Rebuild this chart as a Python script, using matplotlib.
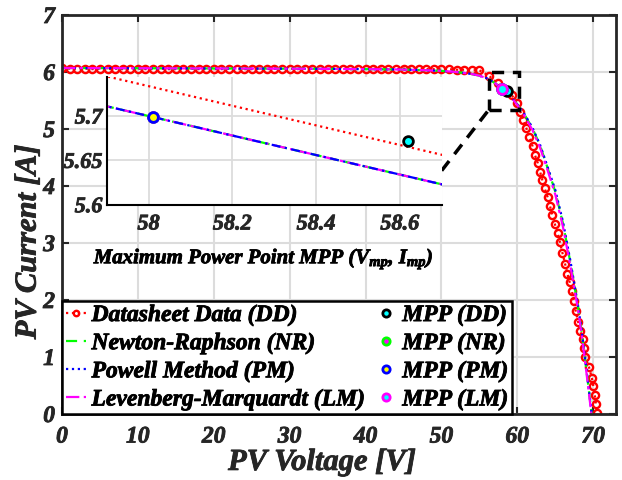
import matplotlib
matplotlib.use('Agg')
import matplotlib.pyplot as plt
from matplotlib.patches import Rectangle
import matplotlib.patheffects as pe

# ---------------- data ----------------
V_dd = [0, 1, 2, 3, 4, 5, 6, 7, 8, 9,
        10, 11, 12, 13, 14, 15, 16, 17, 18, 19,
        20, 21, 22, 23, 24, 25, 26, 27, 28, 29,
        30, 31, 32, 33, 34, 35, 36, 37, 38, 39,
        40, 41, 42, 43, 44, 45, 46, 47, 48, 49,
        50, 51, 52, 53, 54, 55, 56.3, 57.4,
        59.3, 59.9, 60.4, 60.8, 61.2, 61.6, 62.0, 62.3, 62.7, 63.0,
        63.3, 63.6, 64.0, 64.3, 64.6, 64.95, 65.3, 65.6, 65.95, 66.3,
        66.6, 66.9, 67.2, 67.45, 67.7, 68.0, 68.3, 68.6, 68.8, 68.95,
        69.45, 69.8, 70.0, 70.2, 70.35, 70.45]
I_dd = [6.07, 6.06, 6.06, 6.06, 6.05, 6.06, 6.05, 6.06, 6.05, 6.05,
        6.06, 6.05, 6.05, 6.06, 6.05, 6.05, 6.05, 6.06, 6.05, 6.05,
        6.05, 6.05, 6.06, 6.05, 6.05, 6.05, 6.06, 6.05, 6.06, 6.06,
        6.06, 6.05, 6.06, 6.06, 6.05, 6.05, 6.06, 6.06, 6.05, 6.06,
        6.06, 6.06, 6.06, 6.05, 6.05, 6.06, 6.06, 6.06, 6.05, 6.05,
        6.05, 6.05, 6.04, 6.04, 6.03, 6.03, 5.93, 5.80,
        5.59, 5.45, 5.30, 5.15, 5.01, 4.86, 4.70, 4.55, 4.40, 4.25,
        4.10, 3.96, 3.80, 3.65, 3.49, 3.33, 3.18, 3.02, 2.82, 2.63,
        2.46, 2.31, 2.15, 1.98, 1.80, 1.62, 1.46, 1.31, 1.16, 1.00,
        0.82, 0.64, 0.50, 0.34, 0.18, 0.02]

V_model = [0, 5, 10, 15, 20, 25, 30, 35, 40, 44, 47, 50, 52, 54, 55, 56, 57, 58,
           59, 60, 61, 62, 63, 64, 65, 66, 67, 68, 68.5, 69, 69.4, 69.8]
I_nr = [6.07, 6.068, 6.066, 6.064, 6.062, 6.06, 6.058, 6.055, 6.05, 6.045, 6.035,
        6.02, 6.0, 5.965, 5.935, 5.89, 5.81, 5.70, 5.59, 5.43, 5.24, 5.01, 4.71,
        4.31, 3.90, 3.35, 2.65, 1.88, 1.42, 0.88, 0.44, 0.0]
I_pm = [6.07, 6.068, 6.066, 6.064, 6.062, 6.06, 6.058, 6.055, 6.05, 6.045, 6.035,
        6.02, 6.0, 5.965, 5.935, 5.89, 5.81, 5.70, 5.59, 5.43, 5.25, 5.02, 4.72,
        4.33, 3.93, 3.38, 2.68, 1.90, 1.44, 0.90, 0.46, 0.0]
I_lm = [6.07, 6.068, 6.066, 6.064, 6.062, 6.06, 6.058, 6.055, 6.05, 6.045, 6.035,
        6.02, 6.0, 5.965, 5.935, 5.89, 5.81, 5.70, 5.59, 5.42, 5.22, 4.98, 4.67,
        4.27, 3.85, 3.29, 2.59, 1.83, 1.37, 0.84, 0.40, -0.05]

mpp_labels = ['MPP (DD)', 'MPP (NR)', 'MPP (PM)', 'MPP (LM)']
mpp_V = [58.62, 58.01, 58.01, 58.01]
mpp_I = [5.672, 5.699, 5.699, 5.699]

x_ticks = [0, 10, 20, 30, 40, 50, 60, 70]
y_ticks = [0, 1, 2, 3, 4, 5, 6, 7]
inset_x_ticks = [58, 58.2, 58.4, 58.6]
inset_x_labels = ['58', '58.2', '58.4', '58.6']
inset_y_ticks = [5.6, 5.65, 5.7]
inset_y_labels = ['5.6', '5.65', '5.7']

zoom_box = [56.2, 5.33, 60.25, 6.0]      # V0, I0, V1, I1
connector = [[50.03, 56.2], [4.27, 5.33]]

# ---------------- style ----------------
plt.rcParams['font.family'] = 'Liberation Serif'
plt.rcParams['font.weight'] = 'bold'
plt.rcParams['font.style'] = 'italic'
plt.rcParams['axes.labelweight'] = 'bold'
plt.rcParams['mathtext.fontset'] = 'custom'
plt.rcParams['mathtext.it'] = 'Liberation Serif:italic:bold'
plt.rcParams['mathtext.rm'] = 'Liberation Serif:italic:bold'
plt.rcParams['mathtext.bf'] = 'Liberation Serif:italic:bold'

dark = '#262626'
gridc = '#dcdcdc'
heavy = [pe.withStroke(linewidth=0.6, foreground='black')]
heavy_d = [pe.withStroke(linewidth=0.6, foreground=dark)]

fig = plt.figure(figsize=(6.22, 4.81), dpi=100)
ax = fig.add_axes([62 / 622, 1 - 415 / 481, 554 / 622, 399 / 481])

mpp_styles = [dict(mec='black', mfc='cyan'),
              dict(mec='#00ff00', mfc='magenta'),
              dict(mec='blue', mfc='yellow'),
              dict(mec='magenta', mfc='cyan')]

h_dd, = ax.plot(V_dd, I_dd, color='red', ls=':', lw=1.6, marker='o', ms=5.2,
                mfc='none', mec='red', mew=1.7, label='Datasheet Data (DD)')
h_nr, = ax.plot(V_model, I_nr, color='#00ff00', ls=(0, (5, 3)), lw=1.6,
                label='Newton-Raphson (NR)')
h_pm, = ax.plot(V_model, I_pm, color='blue', ls=':', lw=1.6,
                label='Powell Method (PM)')
h_lm, = ax.plot(V_model, I_lm, color='magenta', ls=(0, (6, 2, 1.5, 2)), lw=1.6,
                label='Levenberg-Marquardt (LM)')

mpp_handles = []
for lab, v, i, st in zip(mpp_labels, mpp_V, mpp_I, mpp_styles):
    h, = ax.plot([v], [i], ls='none', marker='o', ms=7, mew=2.0, label=lab, **st)
    mpp_handles.append(h)

# zoom box and connector
ax.add_patch(Rectangle((zoom_box[0], zoom_box[1]), zoom_box[2] - zoom_box[0],
                       zoom_box[3] - zoom_box[1], fill=False, ec='black',
                       lw=2.5, ls=(0, (3.5, 2.5)), zorder=6))
ax.plot(connector[0], connector[1], color='black', lw=2.5, ls=(0, (3.5, 2.5)),
        zorder=6)

ax.set_xlim(0, 73)
ax.set_ylim(0, 7)
ax.set_xticks(x_ticks)
ax.set_yticks(y_ticks)
ax.grid(True, color=gridc, lw=1.5)
ax.set_axisbelow(True)
ax.tick_params(direction='in', top=True, right=True, length=5, width=1.5,
               labelsize=17, colors=dark, labelcolor=dark)
ax.tick_params(axis='x', pad=9)
ax.tick_params(axis='y', pad=5)
for s in ax.spines.values():
    s.set_linewidth(2.0)
    s.set_color(dark)
for t in ax.get_xticklabels() + ax.get_yticklabels():
    t.set_path_effects(heavy_d)

ax.set_xlabel('PV Voltage [V]', fontsize=22, color=dark, path_effects=heavy_d)
ax.set_ylabel('PV Current [A]', fontsize=22, color=dark, path_effects=heavy_d)
ax.xaxis.set_label_coords(0.469, -0.085)
ax.yaxis.set_label_coords(-0.035, 0.431)

leg = ax.legend(handles=[h_dd, h_nr, h_pm, h_lm] + mpp_handles, ncol=2,
                loc='lower left', bbox_to_anchor=(0.0, 0.0),
                prop={'family': 'Liberation Serif', 'weight': 'bold',
                      'style': 'italic', 'size': 17},
                frameon=True, fancybox=False, handlelength=0.85,
                handletextpad=0.25, columnspacing=0.45, borderpad=0.15,
                labelspacing=0.28, borderaxespad=0.0, markerscale=0.75)
leg.get_frame().set_edgecolor('black')
leg.get_frame().set_linewidth(1.8)
leg.get_frame().set_alpha(1)
leg.set_zorder(10)
for t in leg.get_texts():
    t.set_path_effects(heavy)

# ---------------- inset ----------------
axi = fig.add_axes([106.7 / 622, 1 - 205.7 / 481, 335 / 622, 127.7 / 481])
axi.plot(V_dd, I_dd, color='red', ls=':', lw=1.6)
axi.plot(V_model, I_nr, color='#00ff00', ls=(0, (5, 3)), lw=1.6)
axi.plot(V_model, I_lm, color='magenta', ls=(0, (6, 2, 1.5, 2)), lw=1.6)
axi.plot(V_model, I_pm, color='blue', ls=(0, (4, 2, 1, 2)), lw=1.6)
order = [1, 3, 2, 0]
for k in order:
    axi.plot([mpp_V[k]], [mpp_I[k]], ls='none', marker='o', ms=7, mew=2.0,
             **mpp_styles[k])
axi.set_xlim(57.9, 58.7)
axi.set_ylim(5.6, 5.744)
axi.set_xticks(inset_x_ticks)
axi.set_xticklabels(inset_x_labels)
axi.set_yticks(inset_y_ticks)
axi.set_yticklabels(inset_y_labels)
axi.grid(True, color=gridc, lw=1.3)
axi.set_axisbelow(True)
axi.spines['top'].set_visible(False)
axi.spines['right'].set_visible(False)
for s in ['left', 'bottom']:
    axi.spines[s].set_linewidth(1.5)
    axi.spines[s].set_color('black')
axi.tick_params(direction='in', length=0, labelsize=16, colors=dark,
                labelcolor=dark)
axi.tick_params(axis='x', pad=7)
axi.tick_params(axis='y', pad=3)
for t in axi.get_xticklabels() + axi.get_yticklabels():
    t.set_path_effects(heavy_d)
axi.set_xlabel('Maximum Power Point MPP ($V_{mp}$, $I_{mp}$)', fontsize=15,
               color='black', path_effects=heavy)
axi.xaxis.set_label_coords(0.47, -0.33)

fig.savefig('out.png', dpi=100)
